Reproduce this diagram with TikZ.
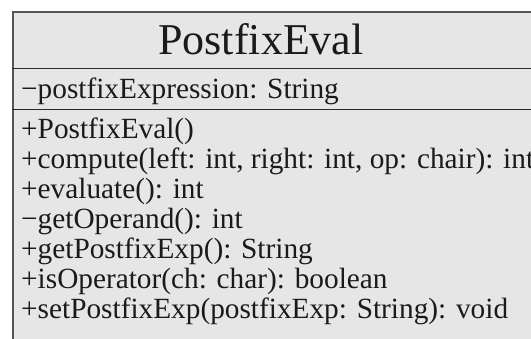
\documentclass[tikz,border=0pt]{standalone}
\usepackage{fontspec}
\setmainfont{Liberation Serif}
\definecolor{boxfill}{HTML}{E6E6E6}
\definecolor{edge}{HTML}{555555}
\definecolor{sep}{HTML}{2A2A2A}
\definecolor{txt}{HTML}{1A1A1A}
\begin{document}
\begin{tikzpicture}[x=1pt,y=-1pt,
  member/.style={anchor=base west,inner sep=0pt,text=txt,font=\fontsize{29.3}{32}\selectfont},
  titletext/.style={anchor=base,inner sep=0pt,text=txt,font=\fontsize{44}{50}\selectfont},
  seprule/.style={draw=sep,line width=1.6pt},
  border/.style={draw=edge,line width=1.6pt}]
\useasboundingbox (0,0) rectangle (531,339);
\fill[white] (0,0) rectangle (531,339);
\fill[boxfill] (12,11) rectangle (531,339);
\coordinate (tl) at (12.8,11.8);
\coordinate (tr) at (531,11.8);
\coordinate (bl) at (12.8,339);
\draw[border] (bl) -- (tl) -- (tr);
\coordinate (s1l) at (12,68.5);
\coordinate (s1r) at (531,68.5);
\coordinate (s2l) at (12,109.5);
\coordinate (s2r) at (531,109.5);
\draw[seprule] (s1l) -- (s1r);
\draw[seprule] (s2l) -- (s2r);
\node[titletext] (title) at (261,55) {PostfixEval};
\node[member] (attr) at (21,99) {−postfixExpression: String};
\node[member] (m1) at (21,139) {+PostfixEval()};
\node[member] (m2) at (21,169) {+compute(left: int, right: int, op: chair): int};
\node[member] (m3) at (21,199) {+evaluate(): int};
\node[member] (m4) at (21,229) {−getOperand(): int};
\node[member] (m5) at (21,259) {+getPostfixExp(): String};
\node[member] (m6) at (21,289) {+isOperator(ch: char): boolean};
\node[member] (m7) at (21,319) {+setPostfixExp(postfixExp: String): void};
\end{tikzpicture}
\end{document}
